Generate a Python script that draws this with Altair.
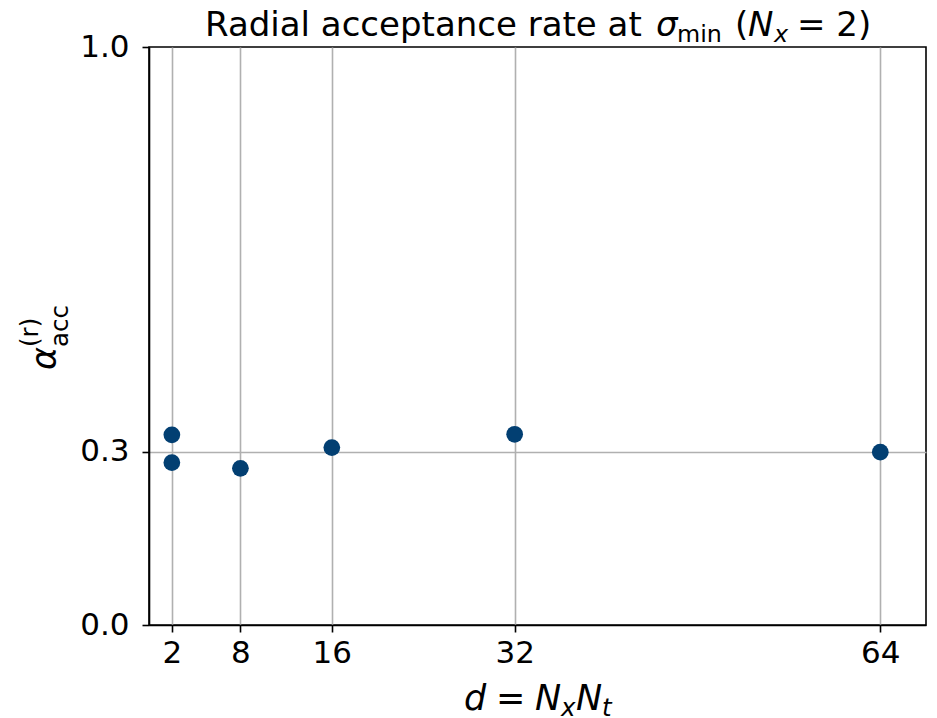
import altair as alt
import pandas as pd

# ---- data ----
d_values = [2, 2, 8, 16, 32, 64]
acc_rates = [0.329, 0.281, 0.271, 0.307, 0.330, 0.299]
x_ticks = [2, 8, 16, 32, 64]
y_ticks = [0.0, 0.3, 1.0]

# text pieces (rendered like math text: italic symbols, smaller sub/superscripts)
title_pieces = ["Radial acceptance rate at", "σ", "min", "(", "N", "x", "= 2)"]
x_title_pieces = ["d", "=", "N", "x", "N", "t"]
y_title_pieces = ["α", "(r)", "acc"]

df = pd.DataFrame({"d": d_values, "acc": acc_rates})

W, H = 777, 578
FONT = "DejaVu Sans"
GRID = "#b0b0b0"
F = 35          # axis-title size
S = 0.7 * F     # sub / superscript size
TF = 34         # chart-title size
TS = 0.7 * TF

points = alt.Chart(df).mark_circle(size=280, opacity=1, color="#023f72").encode(
    x=alt.X(
        "d:Q",
        scale=alt.Scale(domain=[0, 68], nice=False, zero=False),
        axis=alt.Axis(values=x_ticks, format="d", title=None, labelPadding=6),
    ),
    y=alt.Y(
        "acc:Q",
        scale=alt.Scale(domain=[0, 1], nice=False),
        axis=alt.Axis(
            values=y_ticks, format=".1f", title=None, labelPadding=13,
            gridOpacity=alt.condition("datum.value > 0.01 && datum.value < 0.99", alt.value(1), alt.value(0)),
        ),
    ),
)


def txt(t, px, py, size, style="normal", align="left", angle=0):
    return alt.Chart(alt.Data(values=[{}])).mark_text(
        text=t, angle=angle, fontSize=size, font=FONT, fontStyle=style,
        align=align, baseline="alphabetic", color="black",
    ).encode(x=alt.value(px), y=alt.value(py))


# chart title
tb = -11
tp = title_pieces
title = (
    txt(tp[0], 56, tb, TF)
    + txt(tp[1], 56 + 451, tb, TF, "italic")
    + txt(tp[2], 56 + 472, tb + 6, TS)
    + txt(tp[3], 56 + 530, tb, TF)
    + txt(tp[4], 56 + 543, tb, TF, "italic")
    + txt(tp[5], 56 + 569, tb + 6, TS, "italic")
    + txt(tp[6], 56 + 592, tb, TF)
)

# x axis title
xb = 663
xp = x_title_pieces
xtitle = (
    txt(xp[0], 315, xb, F, "italic")
    + txt(xp[1], 347, xb, F)
    + txt(xp[2], 386, xb, F, "italic")
    + txt(xp[3], 412, xb + 6, S, "italic")
    + txt(xp[4], 427, xb, F, "italic")
    + txt(xp[5], 453, xb + 6, S, "italic")
)

# y axis title (rotated)
yp = y_title_pieces
ytitle = (
    txt(yp[0], -93, 300, F, "italic", "right", 270)
    + txt(yp[1], -111, 300, S, "normal", "left", 270)
    + txt(yp[2], -81, 300, S, "normal", "left", 270)
)

chart = (points + title + xtitle + ytitle).properties(
    width=W,
    height=H,
    autosize=alt.AutoSizeParams(type="none"),
    padding={"left": 141, "top": 39, "right": 3, "bottom": 92},
).configure_view(
    stroke="black", strokeWidth=1.6
).configure_axis(
    labelFont=FONT, labelFontSize=31, labelColor="black",
    tickColor="black", tickSize=7, tickWidth=1.6,
    domainColor="black", domainWidth=1.6,
    grid=True, gridColor=GRID, gridWidth=1.6,
)

chart.save("out.html", embed_options={"renderer": "svg", "actions": False})
